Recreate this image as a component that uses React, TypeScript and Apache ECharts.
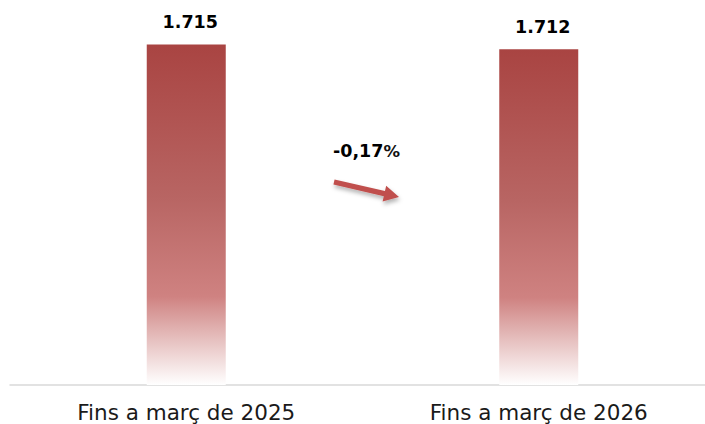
import React, { useEffect, useRef } from "react";
import * as echarts from "echarts";

const categories = ["Fins a març de 2025", "Fins a març de 2026"];
const values = [1715, 1712];
const valueLabels = ["1.715", "1.712"];
const changeLabel = "-0,17";

function arrowPoints(sx: number, sy: number, tx: number, ty: number) {
  const dx = tx - sx;
  const dy = ty - sy;
  const len = Math.sqrt(dx * dx + dy * dy);
  const ux = dx / len;
  const uy = dy / len;
  const nx = -uy;
  const ny = ux;
  const hw = 2.6;
  const headW = 8;
  const headL = 15;
  const bx = tx - ux * headL;
  const by = ty - uy * headL;
  return [
    [sx + nx * hw, sy + ny * hw],
    [bx + nx * hw, by + ny * hw],
    [bx + nx * headW, by + ny * headW],
    [tx, ty],
    [bx - nx * headW, by - ny * headW],
    [bx - nx * hw, by - ny * hw],
    [sx - nx * hw, sy - ny * hw],
  ];
}

export default function App() {
  const ref = useRef<HTMLDivElement>(null);
  useEffect(() => {
    if (!ref.current) return;
    const chart = echarts.init(ref.current, undefined, { renderer: "svg" });
    chart.setOption({
      animation: false,
      grid: {
        left: 10,
        width: 705,
        top: 5,
        bottom: 39,
        containLabel: false,
        outerBoundsMode: "none",
      },
      xAxis: {
        type: "category",
        data: categories,
        axisLine: { show: true, lineStyle: { color: "#d9d9d9", width: 1.5 } },
        axisTick: { show: false },
        axisLabel: {
          color: "#1a1a1a",
          fontFamily: "DejaVu Sans",
          fontSize: 21.5,
          margin: 16,
        },
      },
      yAxis: {
        type: "value",
        min: 1500,
        max: 1740,
        show: false,
        splitLine: { show: false },
      },
      series: [
        {
          type: "bar",
          barWidth: 79,
          data: values,
          itemStyle: {
            color: new echarts.graphic.LinearGradient(0, 0, 0, 1, [
              { offset: 0, color: "#A94442" },
              { offset: 0.45, color: "#B86563" },
              { offset: 0.74, color: "#CF8281" },
              { offset: 0.85, color: "#E3B8B7" },
              { offset: 1, color: "#FFFFFF" },
            ]),
          },
          label: {
            show: true,
            position: "top",
            distance: 13.5,
            offset: [4, 0],
            formatter: (p: any) => valueLabels[p.dataIndex],
            color: "#000",
            fontFamily: "DejaVu Sans",
            fontWeight: "bold",
            fontSize: 17.5,
          },
        },
      ],
      graphic: [
        {
          type: "text",
          left: 333,
          top: 142,
          style: {
            text: "{a|" + changeLabel + "}{b|%}",
            rich: {
              a: {
                fontFamily: "DejaVu Sans",
                fontWeight: "bold",
                fontSize: 17.5,
                fill: "#000",
              },
              b: {
                fontFamily: "DejaVu Sans",
                fontWeight: "bold",
                fontSize: 16.5,
                fill: "#111",
              },
            },
          },
        },
        {
          type: "polygon",
          shape: { points: arrowPoints(334, 182, 399, 197) },
          style: {
            fill: "#C0504D",
            shadowBlur: 4,
            shadowOffsetX: 1,
            shadowOffsetY: 3,
            shadowColor: "rgba(0,0,0,0.3)",
          },
        },
      ],
    });
    return () => chart.dispose();
  }, []);
  return (
    <div
      ref={ref}
      style={{ position: "absolute", left: 0, top: 0, width: 705, height: 424 }}
    />
  );
}
